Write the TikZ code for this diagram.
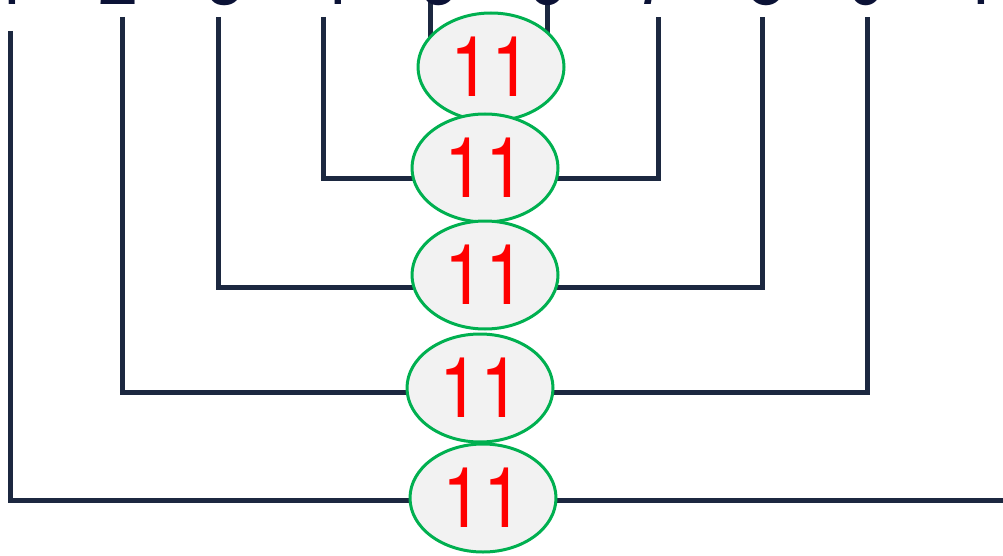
\documentclass[tikz,border=0pt]{standalone}
\usepackage{fontspec}
\setmainfont{TeX Gyre Heros}
\newfontfamily\numfont[FakeStretch=0.86]{TeX Gyre Heros}
\usepackage{xcolor}
\usepackage{tikz}
\usetikzlibrary{shapes.geometric,backgrounds}
\definecolor{wirenavy}{HTML}{1C2840}
\definecolor{digitnavy}{HTML}{0B1236}
\definecolor{sumgreen}{HTML}{00B050}
\definecolor{sumfill}{HTML}{F2F2F2}
\newcommand{\bignum}{\numfont\fontsize{84pt}{84pt}\selectfont}

\begin{document}
\begin{tikzpicture}[x=1pt,y=-1pt,
    wire/.style={line width=5pt,color=wirenavy},
    digit/.style={anchor=base,inner sep=0pt,text=digitnavy,font=\bignum},
    sumnode/.style={ellipse,draw=sumgreen,line width=3pt,fill=sumfill,
      text=red,inner sep=0pt,minimum width=146pt,minimum height=108pt,font=\bignum}]
% Reference grid (temporary)
%\draw[help lines,step=50] (0,0) grid (1003,556);
\useasboundingbox (0,0) rectangle (1003,556);
\clip (0,0) rectangle (1003,556);

% the numbers 1..10, cut by the top edge
\foreach \n/\x in {1/11,2/119,3/226,4/332,5/440,6/548,7/655,8/767,9/868,10/1000}
    \node[digit] (d\n) at (\x,5) {\n};
% top ends of the wires
\foreach \n/\x/\y in {1/10/31,2/122/17,3/218/17,4/323/17,5/430/0,
                      6/547/0,7/658/17,8/762/17,9/867/17,10/1006/17}
    \coordinate (t\n) at (\x,\y);

% the sums
\foreach \k/\x/\y in {1/491/67,2/485/168,3/485/275,4/480/388,5/483/498}
    \node[sumnode] (s\k) at (\x,\y) {11};

\begin{scope}[on background layer]
\draw[wire] (t5) -- (t5 |- s1.center);
\draw[wire] (t6) -- (t6 |- s1.center);
\foreach \k/\a/\b/\y in {2/4/7/179,3/3/8/287,4/2/9/392,5/1/10/500} {
    \coordinate (h\k) at (0,\y);
    \draw[wire] (t\a) -- (t\a |- h\k) -- (t\b |- h\k) -- (t\b);
}
\end{scope}
\end{tikzpicture}
\end{document}
